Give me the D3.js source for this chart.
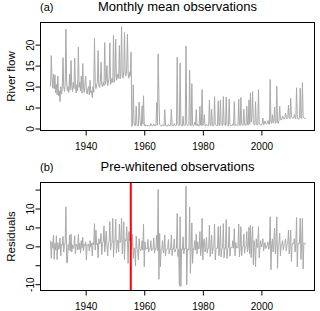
<!DOCTYPE html>
<html>
<head>
<meta charset="utf-8">
<script src="https://cdn.jsdelivr.net/npm/d3@7"></script>
<style>
    body { margin: 0; background: #fff; }
    svg text { font-family: "Liberation Sans", Arial, Helvetica, sans-serif; fill: #000; }
</style>
</head>
<body>
<div id="chart"></div>
<script>
// each row: year, then four quarterly values
var flowRows = [
    [1928, 10.0, 17.4, 12.0, 9.6], [1929, 13.0, 9.5, 12.8, 8.5], [1930, 10.5, 8.0, 12.5, 7.8],
    [1931, 9.0, 6.4, 10.0, 8.2], [1932, 9.5, 16.9, 10.0, 8.8], [1933, 10.5, 23.7, 11.0, 9.0],
    [1934, 10.0, 8.6, 13.0, 9.2], [1935, 16.2, 10.0, 8.8, 11.0], [1936, 9.5, 16.8, 10.0, 8.5],
    [1937, 10.5, 9.0, 19.4, 9.8], [1938, 11.0, 9.0, 12.5, 8.4], [1939, 15.5, 10.0, 8.6, 10.5],
    [1940, 12.5, 9.0, 8.2, 9.5], [1941, 10.0, 8.0, 11.5, 8.5], [1942, 9.0, 7.4, 10.0, 8.6],
    [1943, 21.5, 11.0, 9.5, 10.5], [1944, 11.0, 18.6, 10.0, 9.8], [1945, 11.0, 15.8, 10.4, 10.0],
    [1946, 11.0, 10.2, 20.5, 10.5], [1947, 11.5, 15.0, 10.2, 11.0], [1948, 12.0, 20.4, 10.5, 11.0],
    [1949, 12.0, 11.0, 22.3, 11.0], [1950, 12.5, 21.3, 11.5, 12.0], [1951, 13.0, 12.0, 19.8, 11.8],
    [1952, 13.0, 24.3, 12.5, 12.0], [1953, 13.5, 22.9, 12.8, 12.5], [1954, 14.0, 22.5, 13.0, 12.0],
    [1955, 13.5, 12.5, 18.2, 0.5], [1956, 0.8, 10.4, 1.5, 0.7], [1957, 0.7, 5.3, 0.9, 0.6],
    [1958, 0.6, 6.3, 2.5, 0.7], [1959, 0.6, 5.4, 1.0, 7.8], [1960, 0.7, 1.0, 0.6, 0.7],
    [1961, 0.6, 0.8, 0.6, 0.6], [1962, 0.6, 1.2, 0.7, 0.6], [1963, 0.7, 1.1, 0.6, 0.7],
    [1964, 0.7, 6.2, 0.8, 17.8], [1965, 7.8, 1.0, 0.7, 0.6], [1966, 0.6, 0.9, 0.7, 0.6],
    [1967, 4.5, 0.8, 0.6, 0.7], [1968, 0.6, 1.0, 0.7, 0.6], [1969, 0.7, 4.6, 0.8, 0.6],
    [1970, 0.6, 1.2, 0.7, 0.6], [1971, 0.8, 17.0, 1.0, 0.7], [1972, 0.7, 15.6, 0.9, 0.6],
    [1973, 0.6, 2.9, 0.8, 0.6], [1974, 0.8, 19.7, 1.2, 0.7], [1975, 0.7, 0.9, 13.9, 0.7],
    [1976, 0.6, 10.7, 0.9, 0.6], [1977, 0.7, 1.5, 0.8, 4.5], [1978, 0.6, 1.0, 0.7, 0.6],
    [1979, 5.3, 0.8, 0.7, 9.3], [1980, 0.7, 1.2, 3.3, 0.7], [1981, 0.6, 1.0, 0.8, 0.6],
    [1982, 0.7, 6.8, 0.9, 0.6], [1983, 4.6, 0.8, 0.7, 0.6], [1984, 7.6, 1.0, 0.8, 0.7],
    [1985, 0.7, 6.6, 0.9, 0.6], [1986, 6.8, 0.9, 0.7, 0.7], [1987, 7.6, 1.0, 0.8, 0.7],
    [1988, 7.5, 0.9, 0.7, 0.6], [1989, 7.0, 1.0, 0.7, 0.7], [1990, 0.7, 1.1, 0.8, 6.4],
    [1991, 0.7, 1.0, 0.8, 0.7], [1992, 0.7, 7.0, 0.9, 0.7], [1993, 7.4, 1.0, 0.8, 0.7],
    [1994, 4.6, 0.9, 0.8, 0.7], [1995, 5.3, 0.9, 0.8, 6.8], [1996, 1.0, 8.5, 1.5, 3.0],
    [1997, 8.8, 1.2, 0.9, 0.8], [1998, 6.4, 1.0, 0.9, 0.8], [1999, 9.3, 1.1, 0.9, 0.8],
    [2000, 0.9, 1.2, 2.5, 0.9], [2001, 1.1, 1.8, 1.2, 1.0], [2002, 1.2, 1.9, 1.1, 1.0],
    [2003, 11.7, 1.5, 1.2, 3.3], [2004, 1.3, 1.8, 5.1, 1.2], [2005, 1.4, 10.1, 1.5, 1.2],
    [2006, 1.8, 5.3, 2.2, 2.0], [2007, 2.3, 3.0, 2.4, 2.2], [2008, 2.5, 3.7, 2.4, 2.3],
    [2009, 2.6, 5.6, 2.5, 2.3], [2010, 7.2, 2.8, 2.5, 2.4], [2011, 2.5, 3.3, 2.6, 2.3],
    [2012, 9.7, 2.8, 2.4, 2.2], [2013, 2.6, 9.6, 2.5, 2.3], [2014, 10.9, 2.8, 2.5, 2.4],
    [2015, 2.4, 2.3]
];
var residRows = [
    [1928, 1.5, -3.2, 1.2, -0.5], [1929, 3.0, -3.4, 0.8, -1.0], [1930, 2.8, -3.5, 1.0, -0.8],
    [1931, -0.5, 2.2, -2.5, 0.5], [1932, 0.3, 2.6, -1.5, 0.2], [1933, 1.2, 10.4, -4.3, -4.3],
    [1934, 0.5, -1.0, 3.0, -1.2], [1935, 3.2, -1.5, 0.4, -0.6], [1936, 0.2, 2.8, -2.0, 0.6],
    [1937, 0.4, -1.0, 3.2, -0.8], [1938, 0.8, -1.8, 1.5, -0.5], [1939, 2.4, -1.2, 0.6, 0.2],
    [1940, 1.2, -3.6, 0.5, 0.3], [1941, 0.6, -1.2, 1.5, -0.2], [1942, 0.8, -2.5, 1.0, 0.4],
    [1943, 6.0, -1.0, 4.3, 0.5], [1944, 0.8, -3.0, 2.0, 0.6], [1945, 1.0, 3.4, -2.2, 0.8],
    [1946, 1.2, 5.4, -1.5, 0.9], [1947, 4.0, 0.5, -2.5, 1.0], [1948, 1.2, 6.5, -1.0, 0.8],
    [1949, 1.0, 7.4, -2.8, 1.2], [1950, 1.4, 7.2, -1.8, 1.0], [1951, 1.6, -1.5, 5.9, 1.0],
    [1952, 1.5, 7.4, -2.0, 1.2], [1953, 6.5, -3.5, 1.8, 1.4], [1954, 5.2, 1.5, -4.5, 3.9],
    [1955, 1.5, 3.5, -1.0, -0.5], [1956, 3.2, -3.2, -0.4, -0.8], [1957, -5.2, 2.7, -0.6, -0.9],
    [1958, -3.6, 2.0, -0.5, -1.2], [1959, -0.8, 1.5, -1.0, 5.9], [1960, -5.4, 1.2, -0.8, -0.6],
    [1961, -0.7, 1.8, -1.5, -0.7], [1962, -0.6, 1.5, -1.2, -0.8], [1963, -0.7, 2.2, -1.8, -0.6],
    [1964, -0.6, 3.0, -1.2, 15.0], [1965, -8.7, 3.4, -5.4, -0.7], [1966, -0.6, 1.5, -1.8, -0.8],
    [1967, 3.0, -2.5, -0.8, -0.7], [1968, -0.6, 1.8, -2.0, -0.7], [1969, -0.8, 3.0, -2.4, -0.6],
    [1970, -0.7, 2.0, -1.5, -0.8], [1971, -0.6, 8.7, -2.7, -0.8], [1972, -10.4, 7.8, -10.6, -0.7],
    [1973, -0.8, 2.5, -2.0, -0.6], [1974, -0.7, 15.9, -10.2, -0.8], [1975, -0.6, -1.0, 10.3, -7.1],
    [1976, -0.7, 6.2, -4.5, -0.6], [1977, -0.8, 1.5, -1.0, 3.2], [1978, -2.0, 1.2, -0.7, -0.6],
    [1979, 3.9, -2.5, -0.5, 7.4], [1980, -3.6, 1.0, 2.0, -1.5], [1981, -0.6, 2.4, -1.8, -0.5],
    [1982, -0.5, 5.6, -2.7, -0.6], [1983, 3.0, -2.0, -0.5, -0.4], [1984, 5.9, -3.6, -0.6, -0.5],
    [1985, -0.5, 5.2, -2.5, -0.4], [1986, 5.4, -2.8, -0.5, -0.4], [1987, 6.0, -3.0, -0.4, -0.5],
    [1988, 7.1, -3.2, -0.5, -0.3], [1989, 5.2, -2.6, -0.4, -0.3], [1990, -0.4, 1.5, -0.5, 4.7],
    [1991, -2.5, 1.0, -0.4, -0.3], [1992, -0.4, 5.9, -2.8, -0.3], [1993, 5.2, -2.5, -0.3, -0.2],
    [1994, 3.2, -1.8, -0.3, -0.2], [1995, 3.9, -1.5, -0.2, 5.0], [1996, -2.0, 5.6, -3.0, 2.0],
    [1997, 5.2, -4.9, 1.5, -0.3], [1998, -5.4, 2.0, -0.2, -0.3], [1999, 5.2, -3.0, -0.2, 1.5],
    [2000, -0.2, 0.5, 2.0, -1.2], [2001, 0.2, 1.0, -0.6, 0.1], [2002, 0.2, 1.2, -0.8, 0.2],
    [2003, 7.8, -6.2, 0.3, 2.0], [2004, -1.5, 0.8, 4.8, -2.0], [2005, 0.3, 7.8, -5.8, 0.4],
    [2006, 0.8, 3.5, -2.5, 0.5], [2007, 0.6, 1.5, -1.0, 0.5], [2008, 0.7, 2.0, -1.2, 0.6],
    [2009, 0.8, 4.3, -2.0, 0.6], [2010, 4.3, -4.0, 0.8, 0.7], [2011, 0.8, 2.0, -1.5, 0.7],
    [2012, 7.6, -5.4, 0.8, 0.6], [2013, 0.9, 7.4, -3.5, 0.7], [2014, 7.4, -6.0, 0.9, 0.8],
    [2015, 0.6, 0.5]
];
var xTicks = [1940, 1960, 1980, 2000];
var flowTicks = [0, 5, 10, 15, 20];
var flowTickLabels = ["0", "5", "10", "15", "20"];
var residTicks = [-10, -5, 0, 5, 10, 15];
var residTickLabels = ["-10", "", "0", "5", "10", ""];
var breakYear = 1955.4;

//行数据 -> [时间, 值]
function toPoints(rows) {
    var pts = [];
    rows.forEach(function (r) {
        for (var q = 1; q < r.length; q++) {
            pts.push([r[0] + (q - 1) / 4, r[q]]);
        }
    });
    return pts;
}

var width = 320;
var height = 311;
var left = 40, right = 315;

var svg = d3.select("#chart")
    .append("svg")
    .attr("width", width)
    .attr("height", height);

var xScale = d3.scaleLinear()
    .domain([1924.4, 2018.3])
    .range([left, right]);

function drawPanel(top, bottom, yDomain, points, yTicks, yLabels, tag, title, yTitle, withBreak) {
    var yScale = d3.scaleLinear()
        .domain(yDomain)
        .range([bottom, top]);

    //序列
    var line = d3.line()
        .x(function (d) { return xScale(d[0]); })
        .y(function (d) { return yScale(d[1]); });
    svg.append("path")
        .datum(points)
        .attr("d", line)
        .attr("fill", "none")
        .attr("stroke", "#a9a9a9")
        .attr("stroke-width", 1);

    if (withBreak) {
        svg.append("line")
            .attr("x1", xScale(breakYear)).attr("x2", xScale(breakYear))
            .attr("y1", top).attr("y2", bottom)
            .attr("stroke", "#ff0000")
            .attr("stroke-width", 2);
    }

    //边框
    svg.append("rect")
        .attr("x", left + 0.5).attr("y", top + 0.5)
        .attr("width", right - left - 1).attr("height", bottom - top - 1)
        .attr("fill", "none")
        .attr("stroke", "#000")
        .attr("stroke-width", 1);

    //x轴
    var gx = svg.append("g")
        .attr("transform", "translate(0," + (bottom - 0.5) + ")")
        .call(d3.axisBottom(xScale).tickValues(xTicks).tickSize(5).tickPadding(7).tickFormat(d3.format("d")));
    gx.select(".domain").remove();
    gx.selectAll("text").attr("font-size", 10);

    //y轴, 标签竖排
    var gy = svg.append("g")
        .attr("transform", "translate(" + (left + 0.5) + ",0)")
        .call(d3.axisLeft(yScale).tickValues(yTicks).tickSize(5)
            .tickFormat(function (d, i) { return yLabels[i]; }));
    gy.select(".domain").remove();
    gy.selectAll("text")
        .attr("x", null)
        .attr("dy", null)
        .attr("text-anchor", "middle")
        .attr("font-size", 10)
        .attr("transform", "translate(-7,0) rotate(-90)");

    svg.append("text")
        .attr("transform", "translate(15," + ((top + bottom) / 2) + ") rotate(-90)")
        .attr("text-anchor", "middle")
        .attr("font-size", 11.5)
        .text(yTitle);

    svg.append("text")
        .attr("x", (left + right) / 2)
        .attr("y", top - 11)
        .attr("text-anchor", "middle")
        .attr("font-size", 13)
        .text(title);

    svg.append("text")
        .attr("x", 40)
        .attr("y", top - 11.5)
        .attr("font-size", 11)
        .text(tag);
}

drawPanel(22, 131, [-0.6, 25.4], toPoints(flowRows), flowTicks, flowTickLabels,
    "(a)", "Monthly mean observations", "River flow", false);
drawPanel(182, 291, [-11.8, 17.0], toPoints(residRows), residTicks, residTickLabels,
    "(b)", "Pre-whitened observations", "Residuals", true);
</script>
</body>
</html>
